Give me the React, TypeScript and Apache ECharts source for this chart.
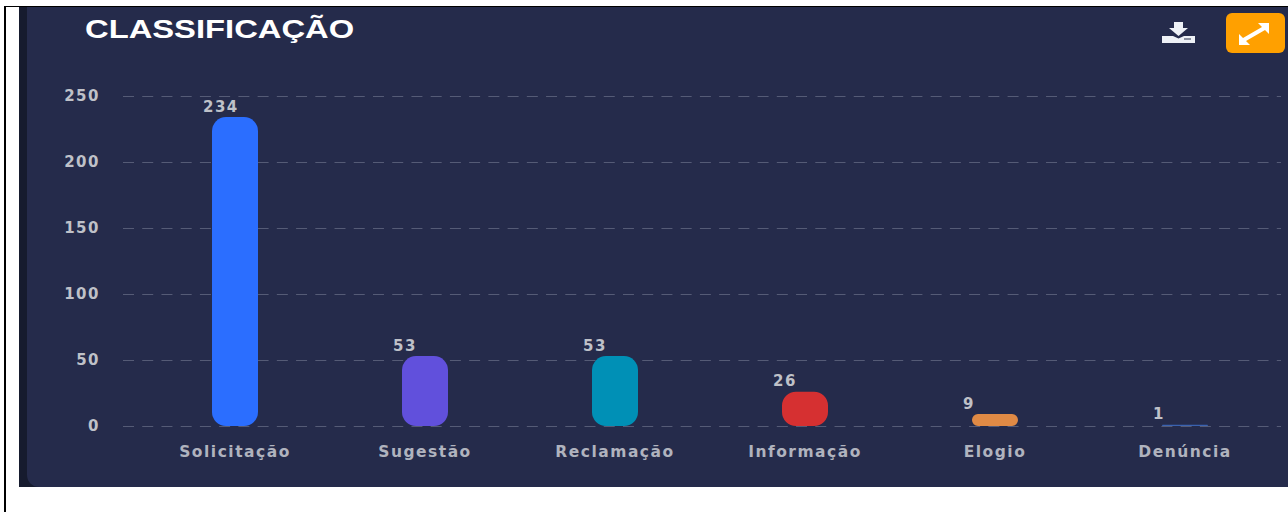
import React, { useEffect, useRef } from "react";
import * as echarts from "echarts";

const categories = ["Solicitação", "Sugestão", "Reclamação", "Informação", "Elogio", "Denúncia"];
const values = [234, 53, 53, 26, 9, 1];
const barColors = ["#2B6EFF", "#6150DC", "#0090B6", "#D63031", "#E08A45", "#3A62B0"];
const titleText = "CLASSIFICAÇÃO";
const cardColor = "#252B4B";
const textColor = "#BFC1C8";
const categoryColor = "#B0B3BE";
const font = "'Liberation Sans', Arial, sans-serif";
const tickFont = "'DejaVu Sans', sans-serif";

echarts.graphic.registerShape("downloadIcon", echarts.graphic.extendPath(
  "M12 1L21 1L21 7L26 7L16.5 15L7 7L12 7ZM0 15L11 15L16.5 17.5L22 15L33 15L33 22L0 22Z", {}) as any);
echarts.graphic.registerShape("expandIcon", echarts.graphic.extendPath(
  "M19 1L30 1L30 12L26 8L7 19L11 23L0 23L0 12L4 16L23 5Z", {}) as any);

export default function App() {
  const ref = useRef<HTMLDivElement>(null);
  useEffect(() => {
    document.body.style.margin = "0";
    const chart = echarts.init(ref.current!, undefined, { renderer: "svg" });
    chart.setOption({
      animation: false,
      backgroundColor: "#FFFFFF",
      textStyle: { fontFamily: font },
      grid: [
        { left: 140, top: 96, width: 1140, height: 330 },
        { left: 123, top: 96, width: 1158, height: 330 },
      ],
      xAxis: [
        {
          type: "category", gridIndex: 0, data: categories,
          axisLine: { show: false }, axisTick: { show: false },
          axisLabel: { color: categoryColor, fontSize: 15.5, fontWeight: "bold", fontFamily: tickFont, margin: 18 },
        },
        { type: "category", gridIndex: 1, data: categories, show: false },
      ],
      yAxis: [
        { type: "value", gridIndex: 0, min: 0, max: 250, interval: 50, show: false, splitLine: { show: false } },
        {
          type: "value", gridIndex: 1, min: 0, max: 250, interval: 50,
          axisLine: { show: false }, axisTick: { show: false },
          axisLabel: { color: textColor, fontSize: 15, fontWeight: "bold", fontFamily: tickFont, margin: 23, padding: [0, 0, 6, 0] },
          splitLine: { show: true, lineStyle: { color: "#555B76", width: 1, type: [11, 8.23] } },
        },
      ],
      series: [
        {
          type: "bar", xAxisIndex: 0, yAxisIndex: 0, barWidth: 46, z: 3,
          data: values.map((v, i) => ({ value: v, itemStyle: { color: barColors[i], borderRadius: 14 } })),
          label: {
            show: true, position: "top", align: "left", offset: [-32, 2],
            color: textColor, fontSize: 15, fontWeight: "bold", fontFamily: tickFont,
          },
        },
      ],
      graphic: [
        { type: "rect", z: -10, silent: true, shape: { x: 4, y: 6, width: 1284, height: 1 }, style: { fill: "#000" } },
        { type: "rect", z: -10, silent: true, shape: { x: 4, y: 6, width: 2, height: 506 }, style: { fill: "#000" } },
        { type: "rect", z: -10, silent: true, shape: { x: 19, y: 7, width: 30, height: 480 }, style: { fill: "#161B2E" } },
        { type: "rect", z: -9, silent: true, shape: { x: 27, y: 7, width: 1261, height: 480, r: [0, 0, 0, 12] }, style: { fill: cardColor } },
        {
          type: "text", z: 5, x: 85, y: 17, scaleX: 1.31, scaleY: 1,
          style: { text: titleText, fill: "#FFFFFF", font: `bold 25px ${font}` },
        },
        { type: "downloadIcon", z: 5, x: 1162, y: 21, style: { fill: "#EEF1F6" } },
        { type: "rect", z: 6, shape: { x: 1184, y: 38, width: 7, height: 2 }, style: { fill: "#8A90A0" } },
        { type: "rect", z: 5, shape: { x: 1226, y: 13, width: 59, height: 40, r: 6 }, style: { fill: "#FFA000" } },
        { type: "expandIcon", z: 6, x: 1239, y: 22, style: { fill: "#FFFFFF" } },
      ],
    });
    return () => chart.dispose();
  }, []);
  return (
    <>
      <style>{`text[style*="25px"]{letter-spacing:0}`}</style>
      <div ref={ref} style={{ width: 1288, height: 512, letterSpacing: "1.5px" }} />
    </>
  );
}
